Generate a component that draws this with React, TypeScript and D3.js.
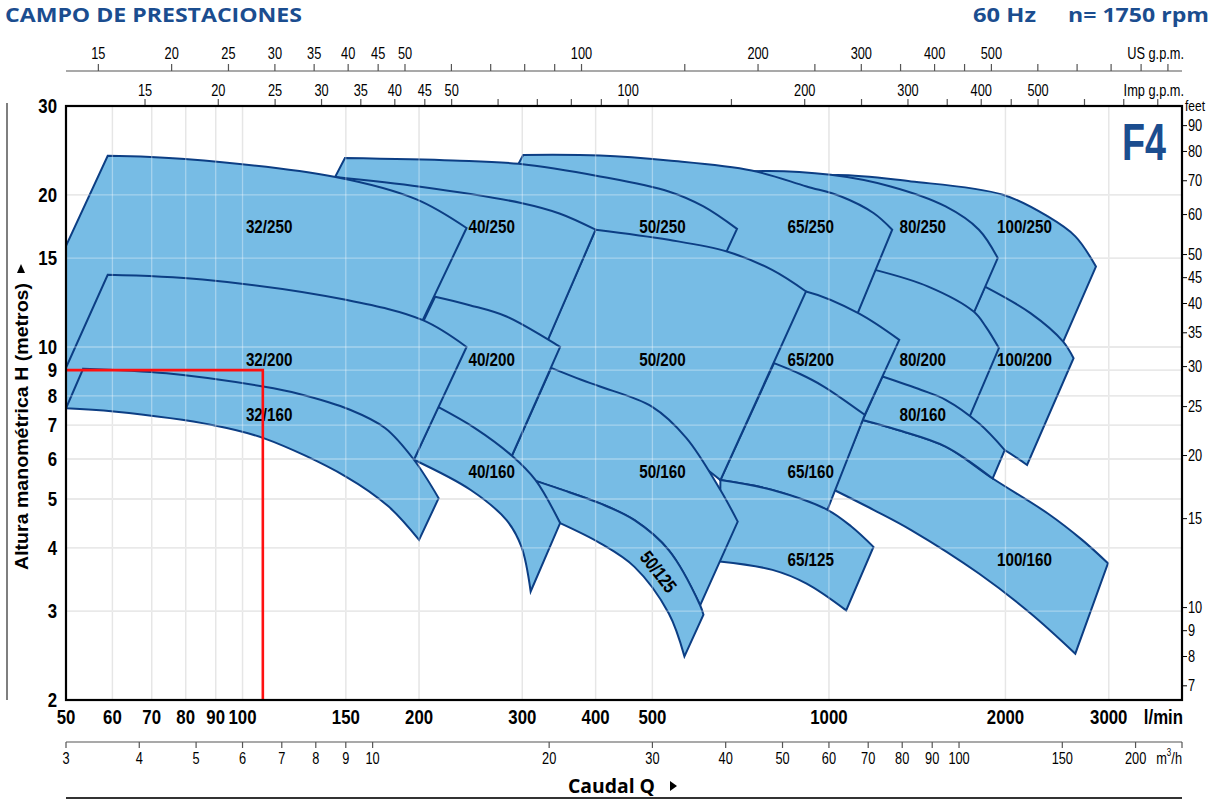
import * as d3 from "d3";

type Pt = [number, number];

// axis ticks
const lpmTicks = [50, 60, 70, 80, 90, 100, 150, 200, 300, 400, 500, 1000, 2000, 3000];
const lpmGrid = [60, 70, 80, 90, 100, 150, 200, 300, 400, 500, 1000, 2000, 3000];
const headTicks = [2, 3, 4, 5, 6, 7, 8, 9, 10, 15, 20, 30];
const headGrid = [3, 4, 5, 6, 7, 8, 9, 10, 15, 20];
const usTicks = [15, 20, 25, 30, 35, 40, 45, 50, 60, 70, 80, 90, 100, 150, 200, 250, 300, 350, 400, 450, 500, 600, 700, 800, 900, 1000];
const usLabels = [15, 20, 25, 30, 35, 40, 45, 50, 100, 200, 300, 400, 500];
const impTicks = [15, 20, 25, 30, 35, 40, 45, 50, 60, 70, 80, 90, 100, 150, 200, 250, 300, 350, 400, 450, 500, 600, 700, 800];
const impLabels = [15, 20, 25, 30, 35, 40, 45, 50, 100, 200, 300, 400, 500];
const m3hTicks = [3, 4, 5, 6, 7, 8, 9, 10, 20, 30, 40, 50, 60, 70, 80, 90, 100, 150, 200];
const feetTicks = [7, 8, 9, 10, 15, 20, 25, 30, 35, 40, 45, 50, 60, 70, 80, 90];

// duty point: 6,5 m3/h at 9 m
const dutyQ = 108.3;
const dutyH = 9;

// pump ranges [l/min, m], drawn back to front
const pumpNames = [
  "100/250", "100/200", "100/160",
  "80/250", "80/200", "80/160",
  "65/250", "65/200", "65/160", "65/125",
  "50/250", "50/200", "50/160", "50/125",
  "40/250", "40/200", "40/160",
  "32/250", "32/200", "32/160",
];

const pumpTops: Pt[][] = [
  [[826, 20.95], [1007, 21.88], [1381, 21.27], [1980, 20.02], [2362, 18.13], [2631, 16.56], [2853, 14.43]],
  [[1845, 13.17], [2206, 11.67], [2508, 10.25], [2613, 9.5]],
  [[1142, 7.17], [1311, 6.85], [1581, 6.35], [1902, 5.49], [2362, 4.68], [2702, 4.15], [2991, 3.73]],
  [[557, 21.43], [738, 22.28], [1007, 21.93], [1274, 20.79], [1581, 18.98], [1802, 17.07], [1940, 15.0]],
  [[1198, 14.21], [1477, 13.17], [1765, 11.75], [1851, 10.97], [1949, 9.95]],
  [[1234, 8.74], [1437, 8.22], [1581, 7.86], [1802, 7.06], [1994, 6.25]],
  [[301, 24.0], [407, 23.94], [533, 23.4], [738, 22.36], [916, 20.79], [1049, 19.86], [1191, 18.42], [1282, 17.07]],
  [[705, 13.27], [914, 12.88], [1122, 11.67], [1318, 10.33]],
  [[806, 9.29], [893, 8.84], [980, 8.35], [1151, 7.34]],
  [[653, 5.45], [801, 5.21], [994, 4.76], [1092, 4.41], [1191, 4.02]],
  [[149.5, 23.66], [228.5, 23.4], [295.6, 23.05], [407, 21.76], [533, 20.32], [611, 18.98], [697, 17.13]],
  [[400, 17.07], [533, 16.3], [670, 15.45], [800, 14.21], [914, 12.88]],
  [[336, 9.09], [378, 8.61], [407, 8.35], [499, 7.62], [571, 6.61], [653, 5.21], [699, 4.51]],
  [[316, 5.43], [348, 5.23], [407, 4.9], [466, 4.54], [533, 3.96], [603, 3.08], [611, 2.95]],
  [[144, 21.7], [201, 20.76], [298.5, 19.28], [348, 18.36], [400, 17.07]],
  [[213, 12.57], [244, 12.1], [282, 11.49], [348, 10.0]],
  [[215.5, 7.61], [249, 6.91], [288, 6.09], [316, 5.45], [348, 4.48]],
  [[58.9, 23.9], [79.7, 23.55], [144, 21.7], [198, 19.6], [241, 17.2]],
  [[58.9, 13.9], [85.5, 13.6], [150, 12.4], [203, 11.3], [241, 10.0]],
  [[53.5, 9.06], [74.2, 8.87], [108.4, 8.35], [125, 8.07], [152.5, 7.51], [175, 6.91], [196, 5.98], [216, 5.02]],
];

const pumpBottoms: Pt[][] = [
  [[1311, 12.4], [1810, 10.33], [2389, 9.0]],
  [[1464, 7.17], [1775, 6.7], [1994, 6.25], [2177, 5.84]],
  [[1021, 5.21], [1191, 4.76], [1381, 4.34], [1802, 3.56], [2206, 2.97], [2631, 2.47]],
  [[893, 12.98], [1311, 11.32], [1686, 10.33]],
  [[1002, 8.61], [1120, 8.04], [1311, 7.51], [1671, 6.55]],
  [[1142, 7.17], [1311, 6.85], [1581, 6.35], [1902, 5.49]],
  [[247, 15.57], [407, 14.21], [734, 12.4], [1072, 10.33]],
  [[705, 10.33], [826, 8.53], [977, 7.68], [1151, 7.34]],
  [[653, 5.45], [801, 5.21], [994, 4.76]],
  [[651, 3.76], [801, 3.62], [916, 3.4], [1070, 3.01]],
  [[124, 15.57], [186, 15.57], [275, 14.88], [407, 12.98], [624, 12.98]],
  [[299, 7.86], [377, 7.68], [495, 6.85], [653, 5.45]],
  [[281, 5.71], [316, 5.43], [348, 5.23], [407, 4.9], [466, 4.54], [533, 3.96], [603, 3.08]],
  [[348, 4.48], [407, 4.09], [466, 3.67], [533, 2.97], [567, 2.44]],
  [[172, 10.8], [226, 10.1], [310, 8.61]],
  [[174, 7.71], [201, 6.55], [217, 6.11], [244, 5.71], [276, 5.45]],
  [[196, 5.98], [245, 5.21], [282, 4.54], [299, 4.02], [310, 3.28]],
  [[38.8, 8.4], [50, 8.4], [69.5, 8.4], [125, 8.8], [189, 9.5]],
  [[46.6, 7.58], [50, 7.59], [60.4, 7.68], [84.5, 7.34], [125, 6.55], [172, 5.84], [196, 5.98]],
  [[50, 7.56], [60.3, 7.45], [89.2, 7.0], [108.6, 6.6], [150, 5.54], [177.5, 4.83], [200, 4.15]],
];

const labelAt: Pt[] = [
  [2155, 17.3], [2155, 9.47], [2155, 3.8],
  [1445, 17.3], [1445, 9.47], [1445, 7.37],
  [931, 17.3], [931, 9.47], [931, 5.67], [931, 3.8],
  [520, 17.3], [520, 9.47], [520, 5.67], [512, 3.59],
  [266, 17.3], [266, 9.47], [266, 5.67],
  [111, 17.3], [111, 9.47], [111, 7.37],
];
const labelAngle = [0, 0, 0, 0, 0, 0, 0, 0, 0, 0, 0, 0, 0, 52, 0, 0, 0, 0, 0, 0];

const L = 66, R = 1182, T = 106, B = 700;
const x = d3.scaleLog().domain([50, 4000]).range([L, R]);
const y = d3.scaleLog().domain([2, 30]).range([B, T]);
const xUS = d3.scaleLog().domain([50 / 3.785, 4000 / 3.785]).range([L, R]);
const xImp = d3.scaleLog().domain([50 / 4.546, 4000 / 4.546]).range([L, R]);
const xM3 = d3.scaleLog().domain([3, 240]).range([L, R]);
const yFt = d3.scaleLog().domain([2 / 0.3048, 30 / 0.3048]).range([B, T]);

const SANS = "'Liberation Sans', Arial, sans-serif";
const TITLE = "'Open Sans', 'Liberation Sans', sans-serif";
const BLUE = "#1b4d8f";
const FILL = "#77bce5";
const EDGE = "#0c3e84";
const SQUEEZE = 0.8;

const curve = d3
  .line<Pt>()
  .x((d) => x(d[0]))
  .y((d) => y(d[1]))
  .curve(d3.curveCatmullRom.alpha(0.5));

function shapePath(top: Pt[], bottom: Pt[]) {
  const t = curve(top) as string;
  const b = curve([...bottom].reverse()) as string;
  return t + "L" + b.slice(1) + "Z";
}

// condensed text: Liberation Sans squeezed horizontally
function NText(props: {
  x: number; y: number; size: number; bold?: boolean; anchor?: string;
  mid?: boolean; angle?: number; fill?: string; children: any;
}) {
  const { x: px, y: py, size, bold, anchor, mid, angle, fill, children } = props;
  const rot = angle ? ` rotate(${angle})` : "";
  return (
    <text
      transform={`translate(${px},${py})${rot} scale(${SQUEEZE},1)`}
      textAnchor={anchor || "middle"}
      dominantBaseline={mid ? "central" : undefined}
      fontFamily={SANS}
      fontWeight={bold ? 700 : 400}
      fontSize={size}
      fill={fill || "#000"}
    >
      {children}
    </text>
  );
}

export default function App() {
  return (
    <svg
      width={1212}
      height={800}
      style={{ position: "absolute", left: 0, top: 0, background: "#fff" }}
    >
      <defs>
        <clipPath id="plot">
          <rect x={L} y={T} width={R - L} height={B - T} />
        </clipPath>
      </defs>

      {/* titles */}
      <text x={5} y={22} fontFamily={TITLE} fontWeight={700} fontSize={20} fill={BLUE}
        textLength={297} lengthAdjust="spacingAndGlyphs">CAMPO DE PRESTACIONES</text>
      <text x={973} y={22} fontFamily={TITLE} fontWeight={700} fontSize={20} fill={BLUE}
        textLength={63} lengthAdjust="spacingAndGlyphs">60 Hz</text>
      <text x={1068} y={22} fontFamily={TITLE} fontWeight={700} fontSize={20} fill={BLUE}
        textLength={141} lengthAdjust="spacingAndGlyphs">n= 1750 rpm</text>

      {/* US gpm axis */}
      <line x1={L} x2={R} y1={71} y2={71} stroke="#555" strokeWidth={1.2} />
      {usTicks.map((t) => (
        <line key={"us" + t} x1={xUS(t)} x2={xUS(t)} y1={64} y2={71} stroke="#555" strokeWidth={1.2} />
      ))}
      {usLabels.map((t) => (
        <NText key={"usl" + t} x={xUS(t)} y={59} size={16}>{t}</NText>
      ))}
      <NText x={1184} y={59} size={16} anchor="end">US g.p.m.</NText>

      {/* Imp gpm axis */}
      {impTicks.map((t) => (
        <line key={"imp" + t} x1={xImp(t)} x2={xImp(t)} y1={99} y2={T} stroke="#555" strokeWidth={1.2} />
      ))}
      {impLabels.map((t) => (
        <NText key={"impl" + t} x={xImp(t)} y={95.5} size={16}>{t}</NText>
      ))}
      <NText x={1184} y={95.5} size={16} anchor="end">Imp g.p.m.</NText>

      {/* grid */}
      {lpmGrid.map((t) => (
        <line key={"gx" + t} x1={x(t)} x2={x(t)} y1={T} y2={B} stroke="#d9d9d9" strokeWidth={1.3} />
      ))}
      {headGrid.map((t) => (
        <line key={"gy" + t} x1={L} x2={R} y1={y(t)} y2={y(t)} stroke="#d9d9d9" strokeWidth={1.3} />
      ))}

      {/* pump ranges */}
      <g clipPath="url(#plot)">
        {pumpNames.map((n, i) => (
          <path key={n} d={shapePath(pumpTops[i], pumpBottoms[i])} fill={FILL} stroke={EDGE}
            strokeWidth={2} strokeLinejoin="miter" />
        ))}
        {lpmGrid.map((t) => (
          <line key={"ox" + t} x1={x(t)} x2={x(t)} y1={T} y2={B} stroke="#fff" strokeOpacity={0.35} strokeWidth={1.3} />
        ))}
        {headGrid.map((t) => (
          <line key={"oy" + t} x1={L} x2={R} y1={y(t)} y2={y(t)} stroke="#fff" strokeOpacity={0.35} strokeWidth={1.3} />
        ))}
      </g>

      {pumpNames.map((n, i) => (
        <NText key={"lab" + n} x={x(labelAt[i][0])} y={y(labelAt[i][1])} size={19} bold mid
          angle={labelAngle[i]}>{n}</NText>
      ))}

      {/* duty point */}
      <polyline
        points={[[50, dutyH], [dutyQ, dutyH], [dutyQ, 2]].map((p) => `${x(p[0])},${y(p[1])}`).join(" ")}
        fill="none" stroke="#ff1010" strokeWidth={2.6} />

      <text x={1166} y={160} textAnchor="end" fontFamily={SANS} fontWeight={700} fontSize={52} fill={BLUE}
        textLength={44} lengthAdjust="spacingAndGlyphs">F4</text>

      {/* frame */}
      <rect x={L} y={T} width={R - L} height={B - T} fill="none" stroke="#000" strokeWidth={2.2} />

      {/* head axis */}
      {headTicks.map((t) => (
        <NText key={"hy" + t} x={57} y={y(t)} size={21} bold mid anchor="end">{t}</NText>
      ))}
      <line x1={7} x2={7} y1={103} y2={B} stroke="#555" strokeWidth={1.5} />
      <text transform="translate(28,426.5) rotate(-90)" textAnchor="middle" fontFamily={SANS} fontWeight={700}
        fontSize={18.5} textLength={287} lengthAdjust="spacingAndGlyphs">Altura manométrica H (metros)</text>
      <path d="M17,273 L25,273 L21,264 Z" fill="#000" />

      {/* feet axis */}
      {feetTicks.map((t) => (
        <g key={"ft" + t}>
          <line x1={R} x2={R + 5} y1={yFt(t)} y2={yFt(t)} stroke="#000" strokeWidth={1} />
          <NText x={R + 6} y={yFt(t)} size={16} mid anchor="start">{t}</NText>
        </g>
      ))}
      <NText x={1185} y={111} size={15} anchor="start">feet</NText>

      {/* l/min axis */}
      {lpmTicks.map((t) => (
        <NText key={"lx" + t} x={x(t)} y={716.5} size={21} bold mid>{t}</NText>
      ))}
      <NText x={1183} y={716.5} size={21} bold mid anchor="end">l/min</NText>

      {/* m3/h axis */}
      <line x1={L} x2={R} y1={742} y2={742} stroke="#555" strokeWidth={1.2} />
      {m3hTicks.map((t) => (
        <line key={"m" + t} x1={xM3(t)} x2={xM3(t)} y1={742} y2={748} stroke="#555" strokeWidth={1.2} />
      ))}
      <line x1={R} x2={R} y1={742} y2={748} stroke="#555" strokeWidth={1.2} />
      {m3hTicks.map((t) => (
        <NText key={"ml" + t} x={xM3(t)} y={758} size={16} mid>{t}</NText>
      ))}
      <NText x={1182} y={758} size={16} mid anchor="end">
        m<tspan fontSize={10} dy={-5}>3</tspan><tspan dy={5}>/h</tspan>
      </NText>

      <text x={568} y={793} fontFamily={TITLE} fontWeight={700} fontSize={19} textLength={87}
        lengthAdjust="spacingAndGlyphs">Caudal Q</text>
      <path d="M670,781 L670,791 L677,786 Z" fill="#000" />
      <line x1={L} x2={R} y1={798} y2={798} stroke="#333" strokeWidth={2} />
    </svg>
  );
}
